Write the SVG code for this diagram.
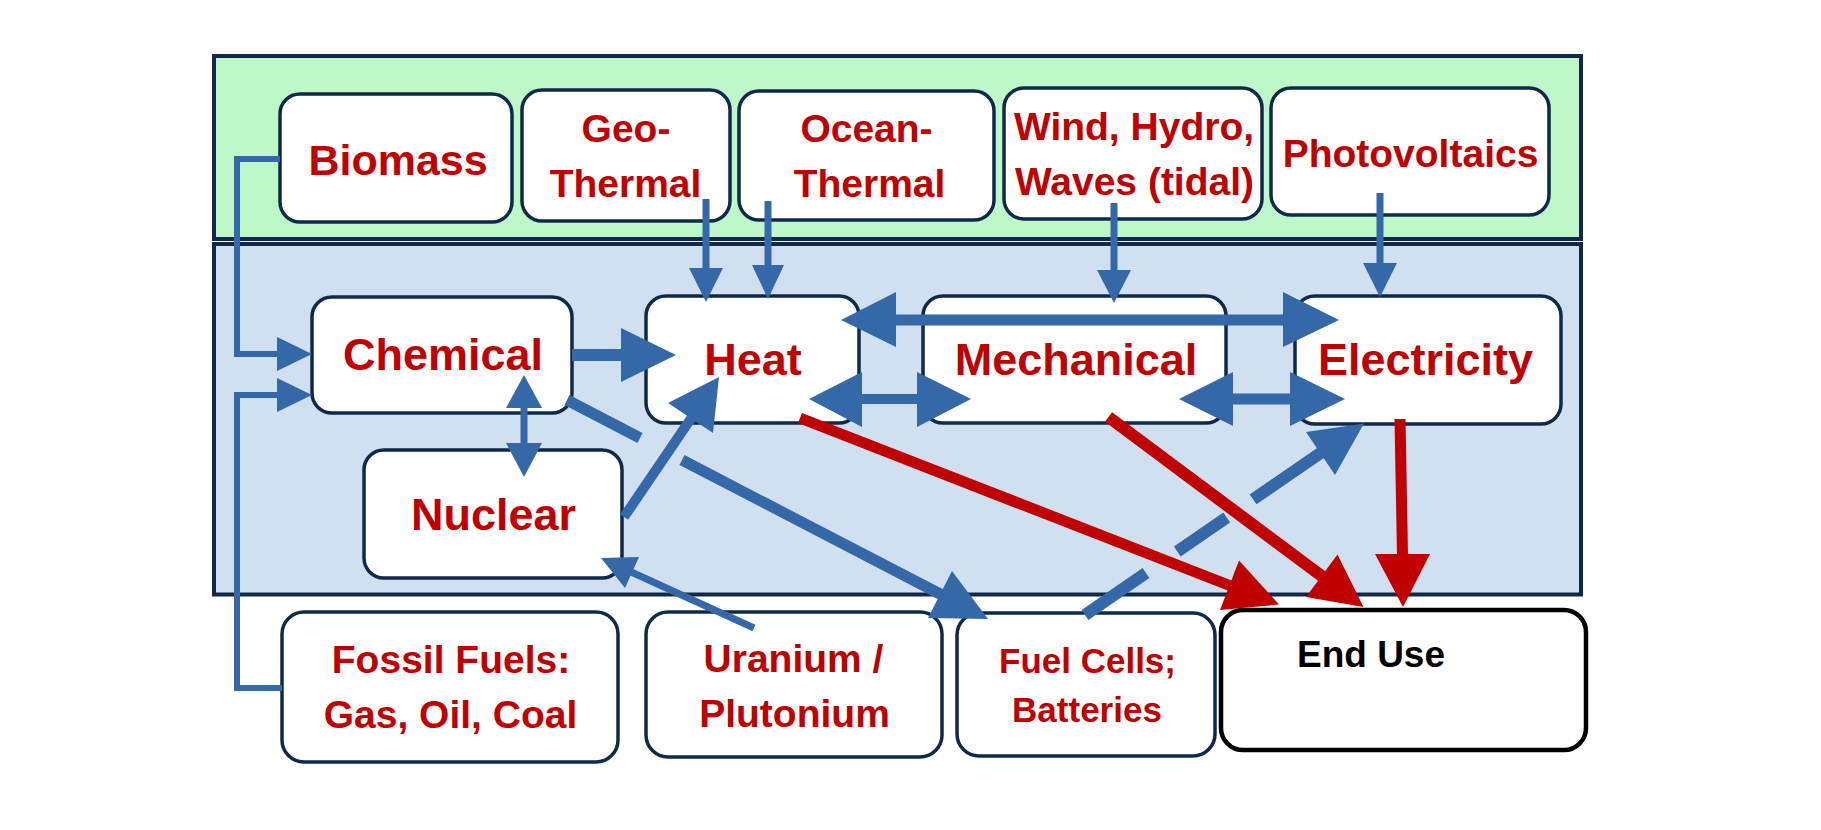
<svg xmlns="http://www.w3.org/2000/svg" width="1821" height="830" viewBox="0 0 1821 830">
<style>
  .bg{fill:#ffffff}
  .green{fill:#BEF8C9;stroke:#10294A;stroke-width:4}
  .blue{fill:#D0E0F1;stroke:#10294A;stroke-width:4}
  .box{fill:#ffffff;stroke:#10294A;stroke-width:3.5}
  .endbox{fill:#ffffff;stroke:#000000;stroke-width:4.5}
  text{font-family:"Liberation Sans",Arial,sans-serif;font-weight:bold;fill:#C00000;text-anchor:middle}
  .t45{font-size:45px}
  .t43{font-size:43px}
  .t39{font-size:39px}
  .t35{font-size:35px}
  .black{fill:#000000;font-size:37px}
  .lb{stroke:#3568A8;fill:none;stroke-linecap:butt;stroke-linejoin:miter}
  .lr{stroke:#C00000;fill:none;stroke-linecap:butt}
  .hb{fill:#3568A8}
  .hr{fill:#C00000}
</style>
<rect class="bg" x="0" y="0" width="1821" height="830"/>
<g id="containers">
  <rect id="renewables" class="green" x="214" y="56" width="1367" height="183"/>
  <rect id="conversion" class="blue" x="214" y="244" width="1367" height="350.5"/>
</g>
<g id="biomass"><rect class="box" x="280" y="94" width="232" height="128" rx="20"/><text class="t43" x="398" y="175">Biomass</text></g>
<g id="geothermal"><rect class="box" x="522" y="90" width="208" height="131" rx="20"/><text class="t39" x="626" y="142">Geo-</text><text class="t39" x="625.5" y="197">Thermal</text></g>
<g id="oceanthermal"><rect class="box" x="739" y="91" width="255" height="129" rx="20"/><text class="t39" x="866.5" y="142">Ocean-</text><text class="t39" x="869.5" y="197">Thermal</text></g>
<g id="windhydro"><rect class="box" x="1004" y="88" width="258" height="131" rx="20"/><text class="t39" x="1134" y="140">Wind, Hydro,</text><text class="t39" x="1134.5" y="195">Waves (tidal)</text></g>
<g id="photovoltaics"><rect class="box" x="1271" y="88" width="278" height="127" rx="20"/><text class="t39" x="1410.5" y="167">Photovoltaics</text></g>
<g id="chemical"><rect class="box" x="312" y="297" width="260" height="116" rx="20"/><text class="t45" x="443" y="370">Chemical</text></g>
<g id="heat"><rect class="box" x="646" y="296" width="213" height="127" rx="20"/><text class="t45" x="753" y="375">Heat</text></g>
<g id="mechanical"><rect class="box" x="923" y="296" width="303" height="127" rx="20"/><text class="t45" x="1076" y="375">Mechanical</text></g>
<g id="electricity"><rect class="box" x="1295" y="296" width="266" height="128" rx="20"/><text class="t45" x="1425.5" y="375">Electricity</text></g>
<g id="nuclear"><rect class="box" x="364" y="450" width="258" height="128" rx="20"/><text class="t45" x="493.5" y="530">Nuclear</text></g>
<g id="fossil"><rect class="box" x="282" y="612" width="336" height="150" rx="22"/><text class="t39" x="451" y="673">Fossil Fuels:</text><text class="t39" x="450.5" y="728">Gas, Oil, Coal</text></g>
<g id="uranium"><rect class="box" x="646" y="612" width="296" height="145" rx="22"/><text class="t39" x="793.5" y="672">Uranium /</text><text class="t39" x="794.5" y="727">Plutonium</text></g>
<g id="fuelcells"><rect class="box" x="957" y="613" width="258" height="143" rx="22"/><text class="t35" x="1087.5" y="673">Fuel Cells;</text><text class="t35" x="1087" y="722">Batteries</text></g>
<g id="enduse"><rect class="endbox" x="1221" y="610" width="365" height="140" rx="22"/><text class="black" x="1371" y="667">End Use</text></g>
<g id="connectors">
  <polyline class="lb" stroke-width="6" points="280,159 237,159 237,354 278,354"/>
  <polygon class="hb" points="277,337 312,354 277,371"/>
  <polyline class="lb" stroke-width="6" points="282,688 237,688 237,395 278,395"/>
  <polygon class="hb" points="277,378 312,395 277,412"/>
  <line class="lb" stroke-width="7" x1="706" y1="199" x2="706" y2="270"/>
  <polygon class="hb" points="689,268 706,302 723,268"/>
  <line class="lb" stroke-width="7" x1="768" y1="201" x2="768" y2="267"/>
  <polygon class="hb" points="752,265 768,299 784,265"/>
  <line class="lb" stroke-width="7" x1="1114" y1="203" x2="1114" y2="272"/>
  <polygon class="hb" points="1097,270 1114,303 1131,270"/>
  <line class="lb" stroke-width="7" x1="1380" y1="193" x2="1380" y2="265"/>
  <polygon class="hb" points="1363,263 1380,297 1397,263"/>
  <line class="lb" stroke-width="12" x1="572" y1="355" x2="623" y2="355"/>
  <polygon class="hb" points="621,328 676,355 621,382"/>
  <line class="lb" stroke-width="11" x1="894" y1="320" x2="1285" y2="320"/>
  <polygon class="hb" points="896,292 841,320 896,347"/>
  <polygon class="hb" points="1283,292 1339,320 1283,347"/>
  <line class="lb" stroke-width="10" x1="860" y1="399" x2="919" y2="399"/>
  <polygon class="hb" points="862,372 809,399 862,427"/>
  <polygon class="hb" points="917,372 971,399 917,427"/>
  <line class="lb" stroke-width="11" x1="1231" y1="399" x2="1292" y2="399"/>
  <polygon class="hb" points="1233,372 1179,399 1233,426"/>
  <polygon class="hb" points="1290,372 1345,399 1290,426"/>
  <line class="lb" stroke-width="7" x1="524" y1="406" x2="524" y2="445"/>
  <polygon class="hb" points="506,408 524,375 542,408"/>
  <polygon class="hb" points="506,443 524,477 542,443"/>
  <line class="lb" stroke-width="10" x1="624" y1="517" x2="692" y2="417"/>
  <polygon class="hb" points="668,403 719,377 713,433"/>
  <line class="lb" stroke-width="7" x1="754" y1="628" x2="629" y2="571"/>
  <polygon class="hb" points="625,588 601,558 639,557"/>
  <line class="lb" stroke-width="11" x1="567" y1="400" x2="640" y2="438"/>
  <line class="lb" stroke-width="11" x1="682" y1="460" x2="942" y2="595"/>
  <polygon class="hb" points="928,618 952,571 988,619"/>
  <line class="lb" stroke-width="12" stroke-dasharray="74 38 60 32 200" x1="1085" y1="615" x2="1322" y2="452"/>
  <polygon class="hb" points="1306,432 1364,423.5 1335,475"/>
  <line class="lr" stroke-width="11" x1="800" y1="418" x2="1231" y2="586"/>
  <polygon class="hr" points="1220,610 1239,560.5 1279,604.5"/>
  <line class="lr" stroke-width="12" x1="1108.5" y1="417" x2="1323" y2="577"/>
  <polygon class="hr" points="1306,597 1337.5,554.5 1363.5,607"/>
  <line class="lr" stroke-width="11" x1="1400" y1="419" x2="1402.5" y2="556"/>
  <polygon class="hr" points="1375,554 1403,607 1430,554"/>
</g>
</svg>
